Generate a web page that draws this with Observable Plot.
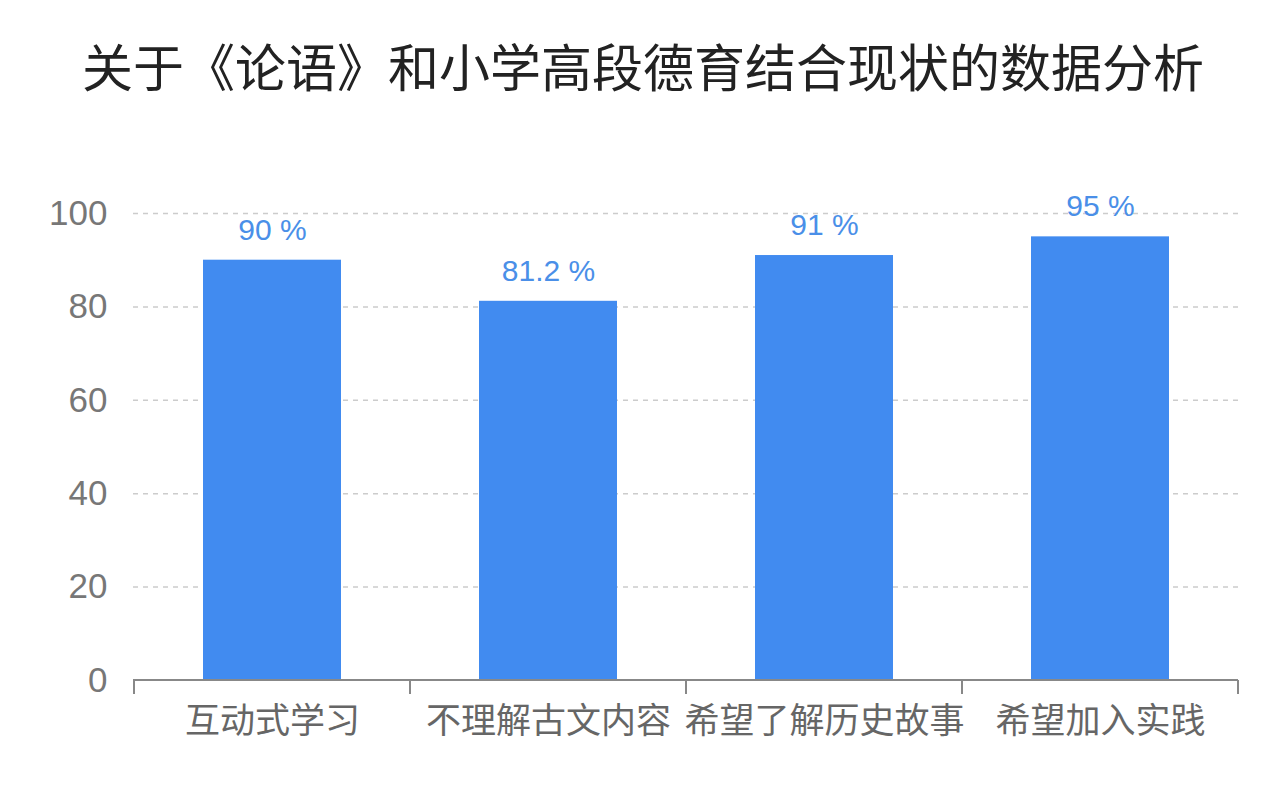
<!DOCTYPE html>
<html><head><meta charset="utf-8">
<script src="https://cdn.jsdelivr.net/npm/d3@7"></script>
<script src="https://cdn.jsdelivr.net/npm/@observablehq/plot@0.6"></script>
<style>
html,body{margin:0;padding:0;background:#fff;}
body{width:1286px;height:802px;overflow:hidden;font-family:"Noto Sans CJK SC","Noto Sans",sans-serif;}
#title{height:130px;display:flex;align-items:center;justify-content:center;font-size:51px;color:#222;padding-bottom:0px;box-sizing:border-box;letter-spacing:0px;}
</style></head>
<body>
<div id="title">关于《论语》和小学高段德育结合现状的数据分析</div>
<div id="chart"></div>
<script>
const categories = ["互动式学习","不理解古文内容","希望了解历史故事","希望加入实践"];
const values = [90, 81.2, 91, 95];
const valueLabels = ["90 %","81.2 %","91 %","95 %"];
const yTicks = [0,20,40,60,80,100];

const data = categories.map((c,i)=>({cat:c, v:values[i], label:valueLabels[i]}));

const boundaryTicks = (index, scales, values, dim) => {
  const x = scales.x;
  const bw = typeof x.bandwidth === "function" ? x.bandwidth() : x.bandwidth;
  const g = d3.create("svg:g");
  const y0 = scales.y(0);
  const xs = categories.map(c => x(c) - bw/2);
  xs.push(x(categories[categories.length-1]) + bw*1.5);
  g.selectAll("line").data(xs).join("line")
    .attr("x1", d=>d).attr("x2", d=>d).attr("y1", y0).attr("y2", y0+14)
    .attr("stroke", "#888").attr("stroke-width", 2);
  g.append("line").attr("x1", dim.marginLeft).attr("x2", dim.width - dim.marginRight)
    .attr("y1", y0).attr("y2", y0).attr("stroke","#888").attr("stroke-width",2);
  return g.node();
};

const chart = Plot.plot({
  width: 1286,
  height: 672,
  marginTop: 83,
  marginBottom: 122,
  marginLeft: 133,
  marginRight: 48,
  style: {fontFamily: '"Noto Sans CJK SC","Noto Sans",sans-serif', background: "#fff"},
  x: {domain: categories, paddingInner: 0.5, paddingOuter: 0.25, label: null},
  y: {domain: [0,100], ticks: yTicks, label: null},
  marks: [
    Plot.gridY(yTicks.filter(t=>t>0), {stroke:"#ccc", strokeOpacity:1, strokeDasharray:"5,5", strokeWidth:1.5}),
    Plot.barY(data, {x:"cat", y:"v", fill:"#418bf0"}),
    Plot.text(data, {x:"cat", y:"v", text:"label", dy:-30, fill:"#4a8fe8", fontSize:30, fontFamily:'"Liberation Sans",Arial,sans-serif'}),
    Plot.axisY({ticks: yTicks, tickSize:0, tickPadding:26, fontSize:35, fill:"#777", label:null, fontFamily:'"Liberation Sans",Arial,sans-serif'}),
    Plot.axisX({tickSize:0, tickPadding:28, fontSize:35, fill:"#666", label:null}),
    boundaryTicks
  ]
});
document.getElementById("chart").appendChild(chart);
</script>
</body></html>
